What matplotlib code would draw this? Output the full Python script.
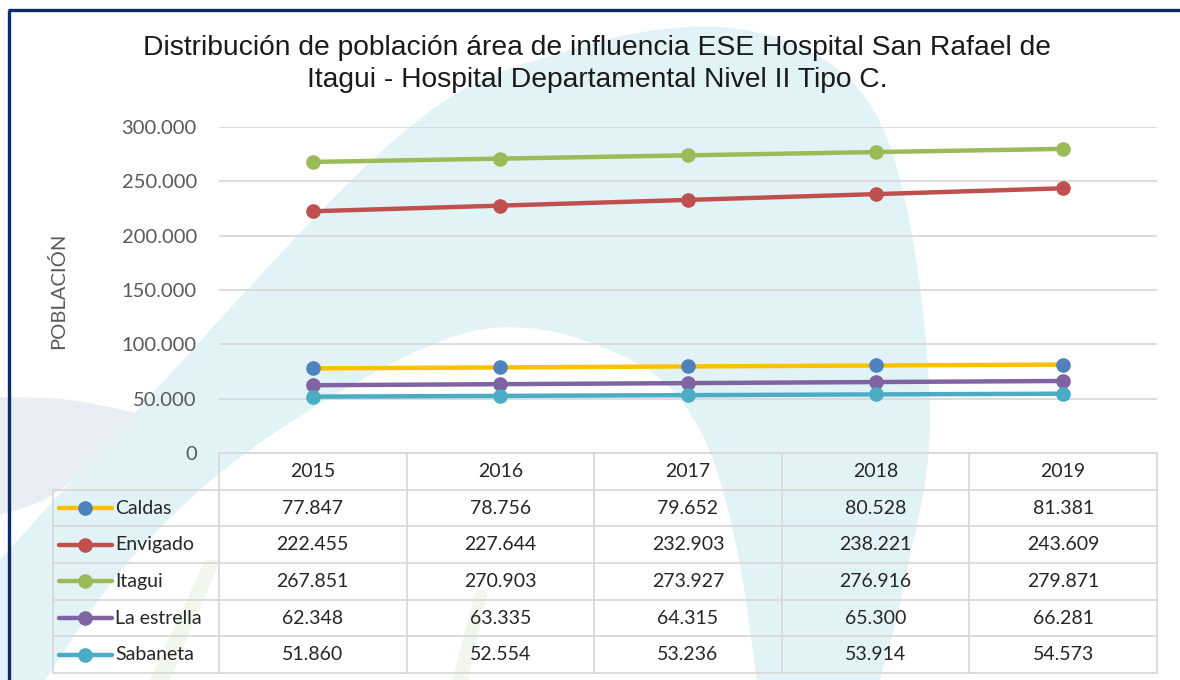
import numpy as np
import matplotlib
matplotlib.use("Agg")
import matplotlib.pyplot as plt
from matplotlib.path import Path
from matplotlib.patches import PathPatch

years = ["2015", "2016", "2017", "2018", "2019"]
series_names = ["Caldas", "Envigado", "Itagui", "La estrella", "Sabaneta"]
caldas = [77847, 78756, 79652, 80528, 81381]
envigado = [222455, 227644, 232903, 238221, 243609]
itagui = [267851, 270903, 273927, 276916, 279871]
la_estrella = [62348, 63335, 64315, 65300, 66281]
sabaneta = [51860, 52554, 53236, 53914, 54573]
y_ticks = [0, 50000, 100000, 150000, 200000, 250000, 300000]

line_colors = ["#ffc000", "#c0504d", "#9bbb59", "#8064a2", "#4bacc6"]
marker_colors = ["#4f81bd", "#c0504d", "#9bbb59", "#8064a2", "#4bacc6"]
all_series = [caldas, envigado, itagui, la_estrella, sabaneta]

W, H = 1180, 680
plt.rcParams["font.family"] = ["Lato", "DejaVu Sans"]


def fmt(v):
    return f"{v:,.0f}".replace(",", ".")


def fx(px):
    return px / W


def fy(py):
    return 1 - py / H


fig = plt.figure(figsize=(W / 100, H / 100), dpi=100)
fig.patch.set_facecolor("white")

# background layer in pixel coords (watermark + frame)
bg = fig.add_axes([0, 0, 1, 1], zorder=0)
bg.set_xlim(0, W)
bg.set_ylim(H, 0)
bg.axis("off")


def blob(pts, color):
    verts = list(pts) + [pts[0]]
    codes = [Path.MOVETO] + [Path.LINETO] * (len(pts) - 1) + [Path.CLOSEPOLY]
    bg.add_patch(PathPatch(Path(verts, codes), facecolor=color, edgecolor="none"))


def smooth(ctrl, n=60):
    # catmull-rom through control points
    p = np.array(ctrl, dtype=float)
    p = np.vstack([p[0], p, p[-1]])
    out = []
    for i in range(1, len(p) - 2):
        p0, p1, p2, p3 = p[i - 1], p[i], p[i + 1], p[i + 2]
        for t in np.linspace(0, 1, n, endpoint=False):
            t2, t3 = t * t, t * t * t
            out.append(0.5 * ((2 * p1) + (-p0 + p2) * t + (2 * p0 - 5 * p1 + 4 * p2 - p3) * t2
                              + (-p0 + 3 * p1 - 3 * p2 + p3) * t3))
    out.append(p[-2])
    return out


outer = smooth([(0, 560), (110, 440), (400, 135), (570, 50), (730, 28), (850, 80),
                (905, 200), (930, 420), (905, 580), (880, 680)])
inner = smooth([(757, 680), (735, 540), (700, 430), (640, 365), (527, 328), (420, 350),
                (250, 450), (130, 560), (45, 680)])
blob(outer + inner + [(0, 680)], "#e2f3f7")
lav = smooth([(0, 397), (70, 400), (140, 414)]) + smooth([(140, 414), (60, 490), (0, 515)])
blob(lav, "#e9edf4")
blob([(150, 680), (205, 560), (220, 560), (170, 680)], "#f1f7ec")
blob([(452, 680), (476, 590), (488, 590), (468, 680)], "#f1f7ec")

bg.plot([8, W], [10, 10], color="#0c2b6b", lw=2.4, solid_capstyle="butt")
bg.plot([9, 9], [10, H], color="#0c2b6b", lw=2.4, solid_capstyle="butt")

# main plot area
left, right, top, bottom = 219, 1157, 127, 453
ax = fig.add_axes([fx(left), fy(bottom), fx(right - left), fy(top) - fy(bottom)], zorder=2)
ax.patch.set_alpha(0)
x = np.arange(len(years))
for vals, lc, mc in zip(all_series, line_colors, marker_colors):
    ax.plot(x, vals, color=lc, lw=3.2, marker="o", ms=9.5, mfc=mc, mec=mc, zorder=3)
ax.set_xlim(-0.5, len(years) - 0.5)
ax.set_ylim(0, 300000)
ax.set_yticks(y_ticks)
ax.set_yticklabels([fmt(v) for v in y_ticks], fontsize=14.5, color="#595959")
ax.set_xticks([])
ax.tick_params(axis="y", length=0, pad=16)
for s in ax.spines.values():
    s.set_visible(False)
ax.grid(axis="y", color="#d9d9d9", lw=1.3)
ax.set_axisbelow(True)

fig.text(fx(58), fy(291), "POBLACIÓN", rotation=90, ha="center", va="center",
         fontsize=14.5, color="#595959")

fig.text(fx(597), fy(35), "Distribución de población área de influencia ESE Hospital San Rafael de\n"
         "Itagui - Hospital Departamental Nivel II Tipo C.", ha="center", va="top",
         fontsize=20.3, family="Liberation Sans", color="#1a1a1a", linespacing=1.28)

# data table below the plot, columns aligned with the categories
tab_left, tab_bottom = 53, 673
legend_w = (left - tab_left) / ((right - left) / len(years))
tab = fig.add_axes([fx(tab_left), fy(tab_bottom), fx(right - tab_left), fy(bottom) - fy(tab_bottom)],
                   zorder=2)
tab.patch.set_alpha(0)
tab.axis("off")
x0 = -0.5 - legend_w
tab.set_xlim(x0, len(years) - 0.5)
nrows = len(series_names) + 1
tab.set_ylim(nrows, 0)
gc = "#d9d9d9"
tab.plot([-0.5, len(years) - 0.5], [0, 0], color=gc, lw=1.3, clip_on=False)
for r in range(1, nrows + 1):
    tab.plot([x0, len(years) - 0.5], [r, r], color=gc, lw=1.3, clip_on=False)
tab.plot([x0, x0], [1, nrows], color=gc, lw=1.3, clip_on=False)
for c in range(len(years) + 1):
    tab.plot([c - 0.5, c - 0.5], [0, nrows], color=gc, lw=1.3, clip_on=False)
for c, yr in enumerate(years):
    tab.text(c, 0.5, yr, ha="center", va="center", fontsize=14, color="#262626")
unit = 1 / ((right - left) / len(years))
for r, (name, vals, lc, mc) in enumerate(zip(series_names, all_series, line_colors, marker_colors), 1):
    tab.plot([x0 + 6 * unit, x0 + 59 * unit], [r + 0.5, r + 0.5], color=lc, lw=3.2,
             solid_capstyle="round", clip_on=False)
    tab.plot([x0 + 32 * unit], [r + 0.5], marker="o", ms=9.5, color=mc, clip_on=False)
    tab.text(x0 + 62 * unit, r + 0.5, name, ha="left", va="center", fontsize=14, color="#262626")
    for c, v in enumerate(vals):
        tab.text(c, r + 0.5, fmt(v), ha="center", va="center", fontsize=14, color="#262626")

fig.savefig("out.png", dpi=100, facecolor="white")
